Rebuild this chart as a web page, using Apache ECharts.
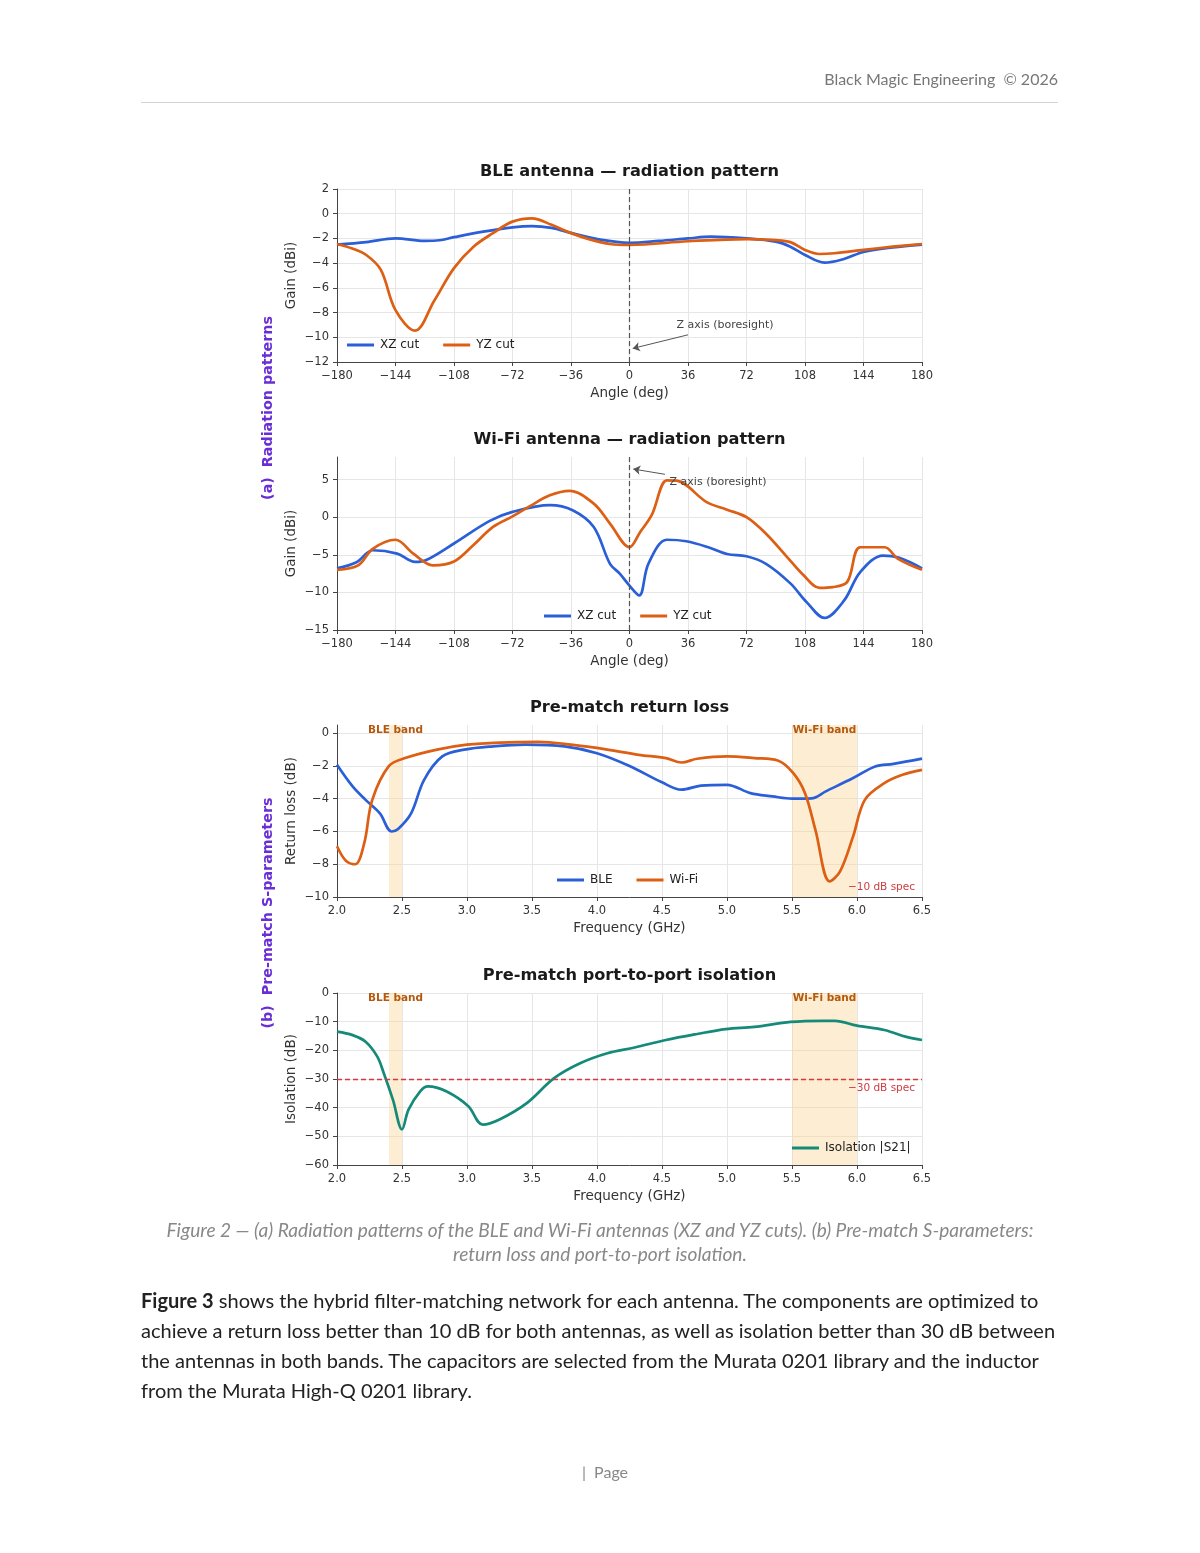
<!DOCTYPE html>
<html><head><meta charset="utf-8">
<script src="https://cdn.jsdelivr.net/npm/echarts@6/dist/echarts.min.js"></script>
<style>
html,body{margin:0;padding:0;background:#fff;}
body{width:1200px;height:1553px;position:relative;overflow:hidden;font-family:Lato,"Noto Sans",sans-serif;}
#chart{position:absolute;left:0;top:0;width:1200px;height:1553px;}
.hdr{position:absolute;right:142px;top:69px;font-size:16px;color:#777;white-space:nowrap;}
.rule{position:absolute;left:141px;top:102px;width:917px;height:0;border-top:1.5px solid #d4d4d4;}
.cap{position:absolute;left:50px;width:1100px;top:1218px;text-align:center;font-style:italic;color:#888;font-size:19.1px;line-height:24px;}
.para{position:absolute;left:141px;top:1285px;font-size:20.05px;line-height:30px;color:#222;white-space:nowrap;}
.foot{position:absolute;left:0;width:1210px;top:1462px;text-align:center;font-size:16px;color:#888;}
</style></head>
<body>
<div id="chart"></div>
<div class="hdr">Black Magic Engineering&nbsp; © 2026</div>
<div class="rule"></div>
<div class="cap">Figure 2 — (a) Radiation patterns of the BLE and Wi-Fi antennas (XZ and YZ cuts). (b) Pre-match S-parameters:<br>return loss and port-to-port isolation.</div>
<div class="para"><b>Figure 3</b> shows the hybrid filter-matching network for each antenna. The components are optimized to<br>achieve a return loss better than 10 dB for both antennas, as well as isolation better than 30 dB between<br>the antennas in both bands. The capacitors are selected from the Murata 0201 library and the inductor<br>from the Murata High-Q 0201 library.</div>
<div class="foot">|&nbsp; Page</div>
<script>
// ---- data: [angle deg, gain dBi] ----
const bleXZ = [[-180,-2.5],[-162,-2.3],[-144,-2.0],[-126,-2.2],[-117,-2.15],[-108,-1.9],[-90,-1.45],[-72,-1.1],[-60,-1.0],[-48,-1.15],[-36,-1.55],[-18,-2.1],[0,-2.35],[18,-2.2],[36,-2.0],[50,-1.86],[72,-2.0],[90,-2.26],[99,-2.67],[108,-3.34],[120,-3.96],[132,-3.66],[144,-3.1],[162,-2.73],[180,-2.5]];
const bleYZ = [[-180,-2.45],[-171,-2.8],[-162,-3.34],[-153,-4.55],[-144,-7.8],[-132,-9.46],[-120,-7.0],[-108,-4.4],[-96,-2.67],[-84,-1.57],[-72,-0.64],[-60,-0.37],[-48,-0.9],[-36,-1.57],[-24,-2.1],[-12,-2.45],[0,-2.53],[36,-2.23],[72,-2.05],[90,-2.14],[99,-2.3],[108,-2.93],[117,-3.26],[126,-3.2],[144,-2.93],[162,-2.67],[180,-2.45]];
const wifiXZ = [[-180,-6.8],[-168,-6.0],[-158,-4.4],[-143,-4.85],[-132,-5.95],[-125,-5.7],[-108,-3.5],[-86,-0.5],[-72,0.7],[-49,1.6],[-35,0.93],[-22,-1.3],[-12,-6.2],[-6,-7.5],[0,-9.1],[6,-10.4],[11.6,-6.2],[23,-3.0],[35,-3.2],[48.5,-4.0],[60,-4.9],[72,-5.2],[84,-6.2],[99,-8.8],[109,-11.3],[120,-13.4],[132,-11.1],[142,-7.3],[156,-5.1],[166,-5.4],[180,-6.8]];
const wifiYZ = [[-180,-7.0],[-167,-6.4],[-158,-4.2],[-144,-3.0],[-133,-4.85],[-121,-6.4],[-108,-5.9],[-96,-3.7],[-84,-1.3],[-72,0.1],[-61,1.5],[-49,2.9],[-37,3.5],[-22,1.8],[-12,-0.85],[0,-4.0],[6.5,-2.0],[13.7,0.3],[23,4.9],[29,4.85],[47.5,2.0],[60,1.0],[72,0.0],[84,-2.2],[97,-5.3],[107,-7.7],[117,-9.4],[125,-9.3],[134,-8.6],[142,-4.0],[157,-4.0],[165,-5.5],[180,-7.0]];
// ---- data: [frequency GHz, dB] ----
const rlBLE = [[2.0,-1.93],[2.12,-3.25],[2.22,-4.07],[2.33,-4.9],[2.42,-6.0],[2.47,-5.85],[2.57,-4.9],[2.67,-2.85],[2.81,-1.42],[2.98,-1.0],[3.2,-0.8],[3.45,-0.7],[3.75,-0.8],[4.0,-1.22],[4.25,-2.0],[4.5,-3.0],[4.65,-3.45],[4.8,-3.2],[5.0,-3.15],[5.18,-3.66],[5.35,-3.86],[5.5,-4.0],[5.65,-3.98],[5.76,-3.55],[5.97,-2.74],[6.14,-2.03],[6.28,-1.87],[6.5,-1.55]];
const rlWiFi = [[2.0,-6.9],[2.07,-7.8],[2.14,-8.0],[2.21,-6.7],[2.27,-4.1],[2.4,-2.0],[2.53,-1.5],[2.77,-1.0],[3.0,-0.7],[3.25,-0.57],[3.55,-0.53],[3.8,-0.7],[4.08,-1.0],[4.32,-1.32],[4.53,-1.52],[4.65,-1.79],[4.77,-1.56],[5.0,-1.42],[5.21,-1.52],[5.39,-1.67],[5.51,-2.44],[5.6,-3.66],[5.68,-5.9],[5.79,-9.05],[5.87,-8.43],[5.97,-6.3],[6.06,-4.07],[6.21,-3.05],[6.35,-2.54],[6.5,-2.24]];
const isoS21 = [[2.0,-13.5],[2.12,-14.7],[2.22,-17],[2.31,-22.2],[2.36,-28],[2.43,-37.2],[2.5,-47.6],[2.55,-40.7],[2.64,-34.3],[2.7,-32.6],[2.84,-34.3],[3.01,-39.5],[3.12,-45.9],[3.25,-44.1],[3.46,-38.4],[3.67,-29.7],[3.87,-24.5],[4.08,-21.0],[4.29,-19],[4.53,-16.4],[4.77,-14.3],[4.99,-12.6],[5.21,-11.8],[5.49,-10.1],[5.73,-9.7],[5.83,-9.7],[6.0,-11.4],[6.21,-12.9],[6.38,-15.3],[6.5,-16.4]];
const bleBand = [2.4, 2.5];
const wifiBand = [5.5, 6.0];
const rlSpec = -10;
const isoSpec = -30;
const titles = ['BLE antenna — radiation pattern','Wi-Fi antenna — radiation pattern','Pre-match return loss','Pre-match port-to-port isolation'];

const FONT = 'DejaVu Sans';
const BLUE = '#2a5fd8', ORANGE = '#dc5f14', TEAL = '#168a78', RED = '#cf3b3f';
const grids = [
  {left:337, top:189, width:585, height:173},
  {left:337, top:457, width:585, height:173},
  {left:337, top:725, width:585, height:172},
  {left:337, top:993, width:585, height:172}
];
const minus = v => String(v).replace('-', '\u2212');
function xAx(i, isFreq){
  return {gridIndex:i, type:'value', min: isFreq?2.0:-180, max: isFreq?6.5:180, interval: isFreq?0.5:36,
    name: isFreq?'Frequency (GHz)':'Angle (deg)', nameLocation:'middle', nameGap:24,
    nameTextStyle:{fontFamily:FONT, fontSize:13.5, color:'#333'},
    axisLine:{show:true, onZero:false, lineStyle:{color:'#444', width:1}},
    axisTick:{show:true, length:4, lineStyle:{color:'#444'}},
    axisLabel:{fontFamily:FONT, fontSize:11.5, color:'#333', margin:8,
      formatter: v => isFreq ? v.toFixed(1) : minus(v)},
    splitLine:{show:true, lineStyle:{color:'#e6e6e6', width:1}}};
}
function yAx(i, min, max, interval, name){
  return {gridIndex:i, type:'value', min, max, interval, name, nameLocation:'middle', nameGap:39,
    nameTextStyle:{fontFamily:FONT, fontSize:13.5, color:'#333'},
    axisLine:{show:true, onZero:false, lineStyle:{color:'#444', width:1}},
    axisTick:{show:true, length:4, lineStyle:{color:'#444'}},
    axisLabel:{fontFamily:FONT, fontSize:11.5, color:'#333', margin:8, formatter: minus,
      showMaxLabel: (max % interval === 0)},
    splitLine:{show:true, showMaxLine: (max % interval === 0), lineStyle:{color:'#e6e6e6', width:1}}};
}
function line(name, data, color, i, extra){
  return Object.assign({type:'line', name, data, xAxisIndex:i, yAxisIndex:i, showSymbol:false, smooth:0.35,
    lineStyle:{color, width:2.7}, itemStyle:{color}, z:3}, extra||{});
}
const zeroLine = {silent:true, symbol:'none', label:{show:false}, lineStyle:{type:[5,3], color:'#555', width:1.2}, data:[{xAxis:0}]};
function arrow(from, to){
  return {silent:true, symbol:['none','arrow'], symbolSize:7, label:{show:false},
    lineStyle:{type:'solid', color:'#555', width:1}, data:[[{coord:from},{coord:to}]]};
}
function note(coord){
  return {silent:true, data:[{coord, symbol:'rect', symbolSize:1, itemStyle:{color:'rgba(0,0,0,0)'},
    label:{show:true, position:'inside', formatter:'Z axis (boresight)', fontFamily:FONT, fontSize:11, color:'#444'}}]};
}
function bands(){
  const lab = t => ({show:true, position:'insideTop', distance:0, formatter:t, fontFamily:FONT, fontSize:10.5, fontWeight:'bold', color:'#b4590d'});
  return {silent:true, itemStyle:{color:'rgba(250,212,150,0.42)'},
    data:[[{xAxis:bleBand[0], label:lab('BLE band')},{xAxis:bleBand[1]}],[{xAxis:wifiBand[0], label:lab('Wi-Fi band')},{xAxis:wifiBand[1]}]]};
}
function spec(val, text, visible, pos){
  return {silent:true, symbol:'none',
    label:{show:true, position:pos, formatter:text, distance:[7,4], fontFamily:FONT, fontSize:10.5, color:RED},
    lineStyle:{type:[5,3], color: visible?RED:'rgba(0,0,0,0)', width:1.3}, data:[{yAxis:val}]};
}
function legend(left, centerY, names){
  return {left, top:centerY-5, padding:0, itemWidth:27, itemHeight:3, itemGap:24, icon:'rect',
    textStyle:{fontFamily:FONT, fontSize:12, color:'#222', padding:[0,0,0,1]}, data:names, selectedMode:false};
}
const graphics = titles.map((t,i)=>({type:'text', x:629.5, y:grids[i].top-17, style:{text:t, fontFamily:FONT, fontSize:16.2, fontWeight:'bold', fill:'#1a1a1a', textAlign:'center', textVerticalAlign:'middle'}}));
graphics.push({type:'text', x:268, y:408, rotation:Math.PI/2, style:{text:'(a)  Radiation patterns', fontFamily:FONT, fontSize:14.3, fontWeight:'bold', fill:'#6a2ed6', textAlign:'center', textVerticalAlign:'middle'}});
graphics.push({type:'text', x:268, y:913, rotation:Math.PI/2, style:{text:'(b)  Pre-match S-parameters', fontFamily:FONT, fontSize:14.3, fontWeight:'bold', fill:'#6a2ed6', textAlign:'center', textVerticalAlign:'middle'}});

const chart = echarts.init(document.getElementById('chart'), null, {renderer:'canvas'});
chart.setOption({
  animation:false,
  backgroundColor:'transparent',
  grid: grids,
  xAxis:[xAx(0,false), xAx(1,false), xAx(2,true), xAx(3,true)],
  yAxis:[yAx(0,-12,2,2,'Gain (dBi)'), yAx(1,-15,8,5,'Gain (dBi)'), yAx(2,-10,0.5,2,'Return loss (dB)'), yAx(3,-60,0,10,'Isolation (dB)')],
  legend:[
    legend(347, 344, ['XZ cut','YZ cut']),
    legend(544, 615, ['XZ cut','YZ cut']),
    legend(557, 879, ['BLE','Wi-Fi']),
    legend(792, 1147, ['Isolation |S21|'])
  ],
  graphic: graphics,
  series:[
    line('XZ cut', bleXZ, BLUE, 0, {markLine: zeroLine}),
    line('YZ cut', bleYZ, ORANGE, 0, {markLine: arrow([36,-9.8],[2,-10.9]), markPoint: note([58.8,-9.0])}),
    line('XZ cut', wifiXZ, BLUE, 1, {markLine: zeroLine}),
    line('YZ cut', wifiYZ, ORANGE, 1, {markLine: arrow([21.8,5.7],[2.3,6.4]), markPoint: note([54.5,4.7])}),
    line('BLE', rlBLE, BLUE, 2, {markArea: bands(), markLine: spec(rlSpec,'\u221210 dB spec', false, 'insideEndTop')}),
    line('Wi-Fi', rlWiFi, ORANGE, 2),
    line('Isolation |S21|', isoS21, TEAL, 3, {markArea: bands(), markLine: spec(isoSpec,'\u221230 dB spec', true, 'insideEndBottom')})
  ]
});
</script>
</body></html>
